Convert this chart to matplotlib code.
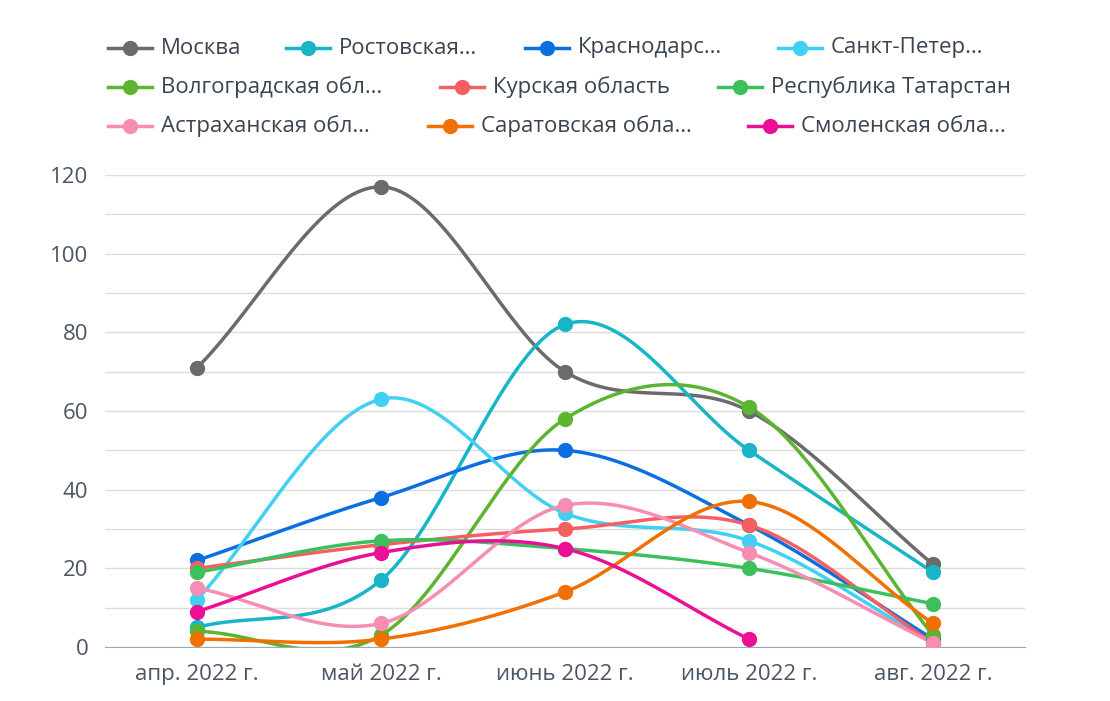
import numpy as np
import matplotlib
matplotlib.use("Agg")
import matplotlib.pyplot as plt
from matplotlib.lines import Line2D

categories = ["апр. 2022 г.", "май 2022 г.", "июнь 2022 г.", "июль 2022 г.", "авг. 2022 г."]
series_names = ["Москва", "Ростовская…", "Краснодарс…", "Санкт-Петер…",
                "Волгоградская обл…", "Курская область", "Республика Татарстан",
                "Астраханская обл…", "Саратовская обла…", "Смоленская обла…"]
moscow = [71, 117, 70, 60, 21]
rostov = [5, 17, 82, 50, 19]
krasnodar = [22, 38, 50, 31, 2]
spb = [12, 63, 34, 27, 1]
volgograd = [4, 3, 58, 61, 3]
kursk = [20, 26, 30, 31, 1]
tatarstan = [19, 27, 25, 20, 11]
astrakhan = [15, 6, 36, 24, 1]
saratov = [2, 2, 14, 37, 6]
smolensk = [9, 24, 25, 2]
series = [moscow, rostov, krasnodar, spb, volgograd, kursk, tatarstan, astrakhan, saratov, smolensk]
colors = ["#6b6b6b", "#17b5c6", "#0b6fe0", "#42d0f2", "#5cb531", "#f55f62",
          "#3cc05e", "#f78db2", "#f07000", "#ea0f95"]

def spline(y, n=40):
    y = np.asarray(y, float)
    x = np.arange(len(y))
    p = np.concatenate([[2*y[0]-y[1]], y, [2*y[-1]-y[-2]]])
    xs, ys = [], []
    for i in range(len(y)-1):
        t = np.linspace(0, 1, n)
        p0, p1, p2, p3 = p[i], p[i+1], p[i+2], p[i+3]
        v = 0.5*((2*p1) + (-p0+p2)*t + (2*p0-5*p1+4*p2-p3)*t**2 + (-p0+3*p1-3*p2+p3)*t**3)
        xs.append(x[i]+t); ys.append(v)
    return np.concatenate(xs), np.concatenate(ys)

fig = plt.figure(figsize=(11.1, 7.01), dpi=100)
ax = fig.add_axes([105/1110, 1-647/701, 920/1110, 472/701])
for s, c in zip(series, colors):
    xs, ys = spline(s)
    ax.plot(xs, ys, color=c, lw=2.5, zorder=3)
    ax.plot(np.arange(len(s)), s, 'o', color=c, ms=10, zorder=4)

ax.set_xlim(-0.5, 4.5)
ax.set_ylim(0, 120)
ax.set_yticks(np.arange(0, 121, 10), minor=False)
ax.set_yticklabels([str(v) if v % 20 == 0 else "" for v in range(0, 121, 10)])
ax.set_xticks(range(5))
ax.set_xticklabels(categories)
ax.grid(axis='y', color="#dcdcdc", lw=1)
ax.set_axisbelow(True)
for sp in ["top", "right", "left"]:
    ax.spines[sp].set_visible(False)
ax.spines["bottom"].set_color("#9aa8b8")
ax.tick_params(length=0, labelsize=16, labelcolor="#4a5565", pad=12)
for lbl in ax.get_xticklabels() + ax.get_yticklabels():
    lbl.set_fontfamily("Open Sans")

rows = [[0, 1, 2, 3], [4, 5, 6], [7, 8, 9]]
row_x = [[108, 286, 525, 778], [108, 440, 718], [108, 428, 748]]
row_y = [48, 87, 126]
for r, idxs in enumerate(rows):
    for k, i in enumerate(idxs):
        x0 = row_x[r][k]; y = 1 - row_y[r]/701
        fig.add_artist(Line2D([x0/1110, (x0+44)/1110], [y, y], color=colors[i], lw=2.5))
        fig.add_artist(Line2D([(x0+22)/1110], [y], marker='o', color=colors[i], ms=10))
        fig.text((x0+53)/1110, y, series_names[i], fontsize=16, color="#3a4450",
                 va='center', fontfamily="Open Sans")

fig.savefig("out.png", dpi=100)
